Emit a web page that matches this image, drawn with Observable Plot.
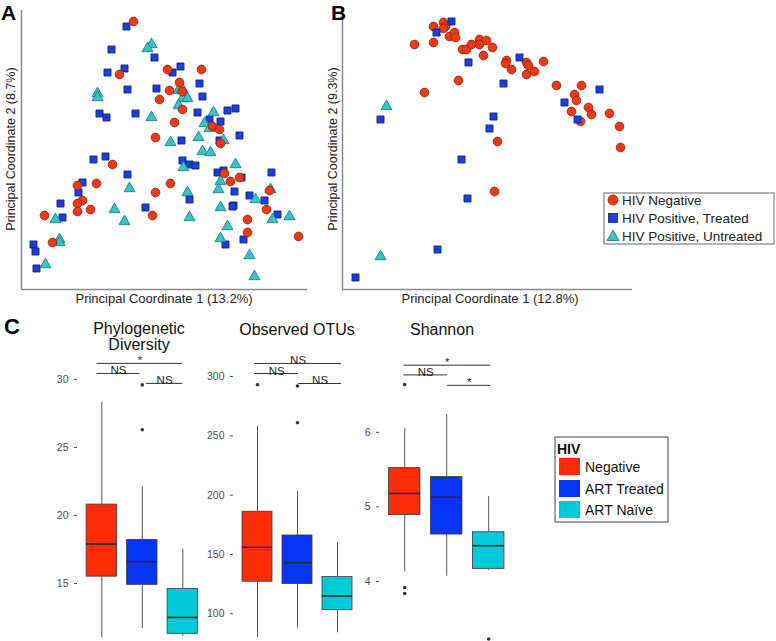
<!DOCTYPE html>
<html><head><meta charset="utf-8">
<script src="https://cdn.jsdelivr.net/npm/d3@7"></script>
<script src="https://cdn.jsdelivr.net/npm/@observablehq/plot@0.6"></script>
<style>
body{margin:0;background:#fff;font-family:"Liberation Sans",Arial,sans-serif}
#fig{position:relative;width:776px;height:641px;overflow:hidden;background:#fff}
</style></head>
<body><div id="fig"></div>
<script>
// ---------- Panel A / B : PCoA scores (relative units) ----------
const groupsAB = ["HIV Negative", "HIV Positive, Treated", "HIV Positive, Untreated"];
const aNegative = [[112,268],[98,215],[146,220],[180,220],[158,207],[148,199],[161,198],[138,190],[161,180],[153,167],[134,152],[191,163],[198,160],[199,146],[91,125],[75,106],[56,104],[134,97],[149,106],[203,116],[209,108],[218,112],[61,89],[56,86],[56,78],[69,80],[23,74],[131,74],[31,47],[226,70],[226,57],[248,99],[245,80],[277,53]];
const aTreated = [[105,263],[90,240],[103,221],[86,217],[133,232],[151,217],[159,223],[106,200],[135,201],[178,206],[181,193],[78,176],[85,172],[114,176],[176,177],[206,179],[214,181],[188,170],[199,168],[218,154],[198,149],[160,149],[161,129],[168,125],[174,124],[72,130],[84,133],[106,115],[61,107],[57,97],[196,117],[202,119],[220,112],[213,98],[250,117],[228,94],[243,89],[256,75],[168,90],[124,82],[212,84],[211,83],[39,86],[41,72],[12,45],[14,38],[15,21],[222,50],[204,45]];
const aUntreated = [[130,245],[126,241],[76,196],[76,192],[157,199],[161,200],[161,191],[166,191],[157,184],[130,172],[192,177],[183,166],[188,161],[149,147],[177,152],[202,149],[181,138],[189,137],[162,122],[214,125],[199,108],[197,100],[108,101],[166,97],[93,80],[103,68],[168,72],[199,82],[206,63],[249,100],[234,90],[251,70],[268,73],[34,70],[38,50],[38,47],[24,25],[199,51],[228,34],[233,13]];
const bNegative = [[91,263],[101,267],[103,263],[101,261],[107,253],[112,257],[113,252],[72,245],[91,247],[120,240],[124,240],[129,245],[137,250],[137,245],[144,249],[150,242],[141,234],[164,229],[163,226],[169,220],[184,227],[186,224],[184,215],[192,218],[201,228],[116,209],[82,197],[214,204],[239,204],[232,195],[234,189],[229,178],[238,168],[246,182],[249,175],[267,176],[277,163],[278,142],[155,148],[152,98]];
const bTreated = [[109,268],[94,257],[126,227],[177,232],[161,206],[257,200],[222,187],[235,170],[38,170],[151,173],[147,161],[119,130],[125,91],[95,40],[13,12]];
const bUntreated = [[44,183],[38,33]];
const axisTitlesAB = ["Principal Coordinate 1 (13.2%)", "Principal Coordinate 2 (8.7%)", "Principal Coordinate 1 (12.8%)", "Principal Coordinate 2 (9.3%)"];

// ---------- Panel C : alpha diversity box plots ----------
const hivGroups = ["Negative", "ART Treated", "ART Naïve"];
const boxColors = ["#fd2c08", "#0534f5", "#00c9d8"];
const pdQ1 = [15.5, 14.9, 11.3], pdMed = [17.9, 16.6, 12.5], pdQ3 = [20.8, 18.2, 14.6];
const pdLow = [11.0, 11.7, 11.1], pdHigh = [28.3, 22.1, 17.5];
const pdOutliers = [[2, 26.3], [2, 29.6]];
const pdTicks = [15, 20, 25, 30];
const otuQ1 = [127, 125, 103], otuMed = [156, 143, 115], otuQ3 = [186, 166, 131];
const otuLow = [80, 88, 84], otuHigh = [258, 203, 160];
const otuOutliers = [[1, 293], [2, 292], [2, 261]];
const otuTicks = [100, 150, 200, 250, 300];
const shQ1 = [4.89, 4.63, 4.17], shMed = [5.18, 5.13, 4.48], shQ3 = [5.52, 5.40, 4.66];
const shLow = [4.13, 4.07, 4.15], shHigh = [6.05, 6.24, 5.14];
const shOutliers = [[1, 6.64], [1, 3.92], [1, 3.84], [3, 3.23]];
const shTicks = [4, 5, 6];
const pdBrackets = [[0.88, 3.0, 31.18, "*"], [0.88, 1.94, 30.44, "NS"], [2.1, 3.0, 29.71, "NS"]];
const otuBrackets = [[0.93, 3.1, 311.0, "NS"], [0.93, 2.03, 302.5, "NS"], [2.03, 3.1, 294.1, "NS"]];
const shBrackets = [[0.98, 3.05, 6.90, "*"], [0.98, 2.02, 6.77, "NS"], [2.02, 3.05, 6.63, "*"]];

// ---------- drawing ----------
const fig = document.getElementById("fig");
const FONT = "Liberation Sans, Arial, Helvetica, sans-serif";
function place(el, left, top) {
  el.style.position = "absolute";
  el.style.left = left + "px";
  el.style.top = top + "px";
  fig.appendChild(el);
}
const baseStyle = {background: "transparent", fontFamily: FONT, overflow: "visible"};
const axisGray = "#8a8a8a";
const scatterStyles = [
  {symbol: "circle", r: 4.4, fill: "#ee3a14", stroke: "#8e1f08"},
  {symbol: "square", r: 4.0, fill: "#1a3fdc", stroke: "#0f2270"},
  {symbol: "triangle", r: 4.1, fill: "#36c3c9", stroke: "#18767c"}
];

function scatter(seriesList, order, {left, frameWidth, xMax}) {
  const width = 320, height = 300, mL = 21;
  const svg = Plot.plot({
    width, height, marginLeft: mL, marginRight: width - mL - frameWidth, marginTop: 10, marginBottom: 11,
    x: {domain: [0, xMax], axis: null},
    y: {domain: [0, 279], axis: null},
    style: baseStyle,
    marks: [
      Plot.ruleX([0], {stroke: axisGray, strokeWidth: 1.5}),
      Plot.ruleY([0], {stroke: axisGray, strokeWidth: 1.5}),
      ...order.map(k => {
        const s = scatterStyles[k];
        return Plot.dot(seriesList[k], {x: d => d[0], y: d => d[1], symbol: s.symbol, r: s.r,
          fill: s.fill, stroke: s.stroke, strokeWidth: 0.8});
      })
    ]
  });
  place(svg, left, 0);
}
scatter([aNegative, aTreated, aUntreated], [1, 2, 0], {left: 0, frameWidth: 286, xMax: 286});
scatter([bNegative, bTreated, bUntreated], [0, 1, 2], {left: 321, frameWidth: 290, xMax: 290});

function boxPanel(p) {
  const step = p.step, xLo = 0.4, xHi = 3.6;
  const frameLeft = p.c1 - (1 - xLo) * step;
  const frameW = (xHi - xLo) * step;
  const top = 315, mL = 44, mR = 6, mT = 355 - top, mB = 641 - 637;
  const rows = hivGroups.map((g, i) => ({g, x: i + 1, q1: p.q1[i], med: p.med[i], q3: p.q3[i], lo: p.lo[i], hi: p.hi[i], fill: boxColors[i]}));
  const outs = p.outliers.map(([x, y]) => ({x, y}));
  const br = p.brackets.map(([x1, x2, y, label]) => ({x1, x2, y, label}));
  const svg = Plot.plot({
    width: mL + frameW + mR, height: 641 - top,
    marginLeft: mL, marginRight: mR, marginTop: mT, marginBottom: mB,
    x: {domain: [xLo, xHi], axis: null},
    y: {domain: p.yDomain, ticks: p.ticks, tickFormat: d => String(d), tickSize: 3, tickPadding: 6, label: null},
    color: {type: "identity"},
    style: {...baseStyle, fontSize: "10.5px", color: "#4d4d4d"},
    marks: [
      Plot.ruleX(rows, {x: "x", y1: "lo", y2: "q1", stroke: "#555", strokeWidth: 1}),
      Plot.ruleX(rows, {x: "x", y1: "q3", y2: "hi", stroke: "#555", strokeWidth: 1}),
      Plot.rect(rows, {x1: d => d.x - 0.375, x2: d => d.x + 0.375, y1: "q1", y2: "q3", fill: "fill", stroke: "#3a3a3a", strokeWidth: 0.8}),
      Plot.ruleY(rows, {y: "med", x1: d => d.x - 0.375, x2: d => d.x + 0.375, stroke: "#2a2a2a", strokeWidth: 1.6}),
      Plot.dot(outs, {x: "x", y: "y", r: 1.8, fill: "#333", stroke: null}),
      Plot.ruleY(br, {y: "y", x1: "x1", x2: "x2", stroke: "#333", strokeWidth: 1}),
      Plot.text(br, {x: d => (d.x1 + d.x2) / 2, y: "y", text: "label", lineAnchor: "bottom", dy: 1, fontSize: 11.5, fill: "#222"})
    ]
  });
  place(svg, frameLeft - mL, top);
}
boxPanel({c1: 101, step: 40.5, q1: pdQ1, med: pdMed, q3: pdQ3, lo: pdLow, hi: pdHigh, outliers: pdOutliers, ticks: pdTicks, yDomain: [11.03, 31.76], brackets: pdBrackets});
boxPanel({c1: 257, step: 40, q1: otuQ1, med: otuMed, q3: otuQ3, lo: otuLow, hi: otuHigh, outliers: otuOutliers, ticks: otuTicks, yDomain: [80.0, 317.7], brackets: otuBrackets});
boxPanel({c1: 404, step: 42, q1: shQ1, med: shMed, q3: shQ3, lo: shLow, hi: shHigh, outliers: shOutliers, ticks: shTicks, yDomain: [3.25, 7.03], brackets: shBrackets});

// ---------- text, titles and legends (overlay) ----------
const NS = "http://www.w3.org/2000/svg";
const ov = document.createElementNS(NS, "svg");
ov.setAttribute("width", 776); ov.setAttribute("height", 641);
ov.style.pointerEvents = "none";
ov.setAttribute("font-family", FONT);
function txt(s, x, y, o = {}) {
  const t = document.createElementNS(NS, "text");
  t.textContent = s;
  t.setAttribute("x", 0); t.setAttribute("y", 0);
  t.setAttribute("transform", `translate(${x},${y})` + (o.rotate ? ` rotate(${o.rotate})` : ""));
  t.setAttribute("font-size", o.size || 13);
  t.setAttribute("fill", o.fill || "#222");
  if (o.bold) t.setAttribute("font-weight", "bold");
  t.setAttribute("text-anchor", o.anchor || "start");
  ov.appendChild(t);
}
function shape(tag, attrs) {
  const e = document.createElementNS(NS, tag);
  for (const k in attrs) e.setAttribute(k, attrs[k]);
  ov.appendChild(e);
}
txt("A", 1, 20, {size: 21, bold: true, fill: "#000"});
txt("B", 331, 20, {size: 21, bold: true, fill: "#000"});
txt("C", 4, 334, {size: 22, bold: true, fill: "#000"});
txt(axisTitlesAB[0], 164, 303, {anchor: "middle"});
txt(axisTitlesAB[1], 15, 149, {anchor: "middle", rotate: -90, size: 12.5});
txt(axisTitlesAB[2], 490, 303, {anchor: "middle"});
txt(axisTitlesAB[3], 337, 149, {anchor: "middle", rotate: -90, size: 12.5});

// Panel C titles
txt("Phylogenetic", 139, 334, {anchor: "middle", size: 16, fill: "#111"});
txt("Diversity", 139, 350, {anchor: "middle", size: 16, fill: "#111"});
txt("Observed OTUs", 297, 335, {anchor: "middle", size: 16, fill: "#111"});
txt("Shannon", 442, 335, {anchor: "middle", size: 16, fill: "#111"});

// Legend A/B
shape("rect", {x: 604, y: 193, width: 170, height: 51, fill: "#fff", stroke: "#666", "stroke-width": 1});
const legY = [200, 218, 236];
shape("circle", {cx: 613, cy: legY[0], r: 5, fill: scatterStyles[0].fill, stroke: scatterStyles[0].stroke, "stroke-width": 0.8});
shape("rect", {x: 608.5, y: legY[1] - 4.5, width: 9, height: 9, fill: scatterStyles[1].fill, stroke: scatterStyles[1].stroke, "stroke-width": 0.8});
shape("path", {d: `M613,${legY[2] - 6} L619,${legY[2] + 4.5} L607,${legY[2] + 4.5} Z`, fill: scatterStyles[2].fill, stroke: scatterStyles[2].stroke, "stroke-width": 0.8});
groupsAB.forEach((g, i) => txt(g, 622, legY[i] + 4.7, {size: 13.5}));

// Legend C
shape("rect", {x: 555, y: 437, width: 113, height: 85, fill: "#fff", stroke: "#444", "stroke-width": 1});
txt("HIV", 557, 454, {size: 14, bold: true, fill: "#111"});
const legC = [458, 480, 501];
hivGroups.forEach((g, i) => {
  shape("rect", {x: 559, y: legC[i], width: 21, height: 17, fill: boxColors[i]});
  txt(g, 585, legC[i] + 13.5, {size: 14, fill: "#111"});
});
place(ov, 0, 0);
</script>
</body></html>
